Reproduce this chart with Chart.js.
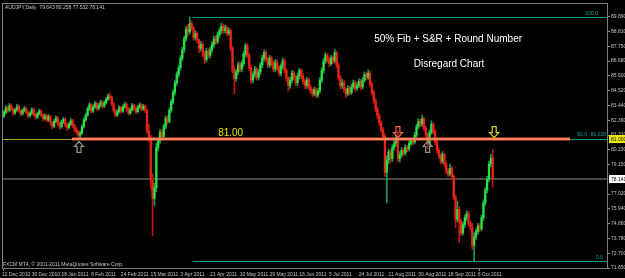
<!DOCTYPE html>
<html><head><meta charset="utf-8">
<script src="https://cdn.jsdelivr.net/npm/chart.js@4.4.1/dist/chart.umd.min.js"></script>
<style>html,body{margin:0;padding:0;background:#000;overflow:hidden}canvas{display:block}</style>
</head><body>
<canvas id="c" width="625" height="278"></canvas>
<script>
const symbol = "AUDJPY";
const period = "Daily";
const opens = [
82.70,82.95,83.30,83.10,83.45,83.20,82.90,83.15,83.40,83.05,
82.85,83.10,83.25,82.95,82.70,82.90,83.15,82.80,82.60,82.85,
83.05,82.75,82.50,82.70,82.40,82.65,82.20,81.95,82.30,82.55,
82.15,81.90,82.25,82.45,82.05,81.85,82.10,82.35,82.00,81.70,
81.55,81.30,81.45,81.90,82.40,82.75,83.20,83.50,83.05,83.35,
83.60,83.25,83.45,83.70,83.40,83.65,83.90,84.15,84.05,83.60,
83.10,82.75,83.00,83.30,83.05,83.35,83.55,83.20,82.90,83.15,
83.45,83.25,83.00,83.30,83.50,83.20,83.40,83.10,81.60,81.10,
78.00,76.70,77.50,80.40,80.90,81.50,81.20,81.90,82.50,82.30,
83.10,83.70,84.40,85.10,85.70,86.20,86.90,87.50,88.30,89.00,
88.80,89.40,89.10,88.40,88.70,88.20,87.60,87.90,87.20,86.80,
87.40,87.10,87.50,87.90,88.30,88.10,88.60,88.90,89.20,88.90,
89.10,88.70,88.90,87.60,86.00,85.40,85.90,86.40,86.10,86.50,
87.20,87.80,87.10,86.20,85.30,85.70,86.10,85.50,85.90,86.40,
86.90,87.30,86.80,86.40,86.90,86.50,86.10,86.60,86.20,85.80,
86.30,86.70,86.00,85.40,84.90,85.30,85.80,85.50,85.10,85.60,
86.00,85.60,85.20,84.90,85.30,84.80,84.50,84.30,84.60,84.20,
84.50,85.30,86.00,86.70,87.10,86.80,86.50,86.90,86.70,87.30,
86.40,85.50,84.90,85.10,84.60,84.30,84.70,84.40,84.80,85.10,
84.70,84.90,85.20,84.80,85.30,85.70,85.50,85.80,85.00,84.40,
83.80,83.20,82.70,82.20,81.70,81.20,78.60,79.50,80.10,79.60,
80.40,80.70,81.10,79.60,79.90,80.20,80.00,80.40,80.30,80.70,
80.90,80.80,81.30,81.90,82.30,82.10,82.50,81.80,81.30,80.70,
81.50,82.10,81.60,80.80,80.20,79.80,79.40,79.90,79.20,78.70,
78.50,78.90,78.30,76.80,75.20,75.90,75.00,74.20,74.80,75.30,
75.60,74.90,74.60,73.30,73.90,74.30,74.70,74.50,75.30,76.40,
77.30,78.10,79.20,79.643];
const highs = [
83.10,83.45,83.40,83.60,83.55,83.30,83.25,83.55,83.50,83.15,
83.20,83.40,83.35,83.05,83.00,83.30,83.25,82.90,82.95,83.20,
83.15,82.85,82.85,82.80,82.80,82.75,82.30,82.45,82.70,82.65,
82.25,82.40,82.60,82.55,82.15,82.25,82.50,82.45,82.10,81.85,
81.65,81.60,82.05,82.55,82.90,83.35,83.65,83.60,83.50,83.75,
83.70,83.60,83.85,83.80,83.80,84.05,84.30,84.35,84.15,83.70,
83.20,83.15,83.45,83.40,83.50,83.70,83.65,83.30,83.30,83.60,
83.55,83.35,83.45,83.65,83.60,83.55,83.50,83.20,82.10,81.30,
78.50,77.80,80.70,81.10,81.70,81.70,82.10,82.70,82.70,83.30,
83.90,84.60,85.30,85.90,86.40,87.10,87.70,88.50,89.20,89.35,
89.89,89.60,89.20,88.90,88.80,88.30,88.10,88.00,87.40,87.60,
87.60,87.70,88.10,88.50,88.50,88.80,89.10,89.45,89.35,89.30,
89.25,89.10,89.00,87.75,86.30,86.10,86.60,86.60,86.70,87.40,
88.00,87.95,87.25,86.35,85.90,86.30,86.25,86.10,86.60,87.10,
87.50,87.45,86.95,87.10,87.05,86.70,86.80,86.75,86.35,86.50,
86.90,86.85,86.15,85.55,85.50,86.00,85.95,85.65,85.80,86.15,
86.10,85.75,85.35,85.50,85.45,84.95,84.65,84.80,84.75,84.70,
85.50,86.20,86.90,87.30,87.25,86.95,87.10,87.05,87.55,87.40,
86.55,85.65,85.35,85.25,84.75,84.90,84.85,85.00,85.30,85.25,
85.10,85.40,85.35,85.50,85.90,85.85,86.05,85.95,85.15,84.55,
83.95,83.35,82.85,82.35,81.85,81.40,79.80,80.30,80.25,80.60,
80.90,81.30,81.60,80.10,80.40,80.35,80.60,80.55,80.90,81.10,
81.05,81.50,82.10,82.50,82.45,82.75,82.60,81.95,81.45,81.70,
82.35,82.20,81.70,80.95,80.35,79.95,80.10,80.00,79.35,78.85,
79.20,79.05,78.45,76.95,76.50,76.10,75.20,75.00,75.50,75.80,
75.75,75.05,74.90,74.20,74.50,74.90,74.85,75.50,76.60,77.50,
78.30,79.40,79.90,80.258];
const lows = [
82.55,82.85,82.95,83.00,83.10,82.75,82.80,83.05,82.95,82.70,
82.75,83.00,82.85,82.55,82.60,82.80,82.70,82.45,82.50,82.75,
82.65,82.35,82.40,82.25,82.30,82.05,81.75,81.85,82.20,82.00,
81.70,81.80,82.15,81.90,81.65,81.75,82.00,81.85,81.55,81.40,
81.15,81.00,81.35,81.80,82.30,82.65,83.10,82.90,82.95,83.25,
83.10,83.15,83.35,83.25,83.30,83.55,83.80,83.90,83.45,82.95,
82.60,82.65,82.90,82.90,82.95,83.25,83.05,82.75,82.80,83.05,
83.10,82.85,82.90,83.20,83.05,83.10,82.95,81.40,80.80,77.40,
74.00,76.20,77.20,80.20,80.70,80.95,81.00,81.75,82.10,82.20,
82.95,83.55,84.20,84.90,85.50,86.00,86.70,87.30,88.10,88.50,
88.65,88.90,88.20,88.20,88.00,87.30,87.40,87.00,86.50,86.60,
86.90,86.90,87.30,87.70,87.90,87.95,88.40,88.70,88.70,88.70,
88.50,88.55,87.40,85.80,84.30,85.20,85.70,85.90,85.90,86.30,
87.00,86.90,86.00,85.05,85.10,85.50,85.30,85.30,85.70,86.20,
86.70,86.60,86.20,86.20,86.30,85.90,85.90,86.00,85.60,85.60,
86.10,85.80,85.20,84.50,84.70,85.10,85.30,84.90,84.90,85.40,
85.40,85.00,84.70,84.70,84.60,84.30,84.10,84.15,84.05,84.05,
84.35,85.10,85.80,86.50,86.60,86.30,86.35,86.50,86.55,86.20,
85.30,84.70,84.70,84.40,84.05,84.15,84.20,84.25,84.65,84.50,
84.55,84.75,84.60,84.65,85.15,85.30,85.35,84.80,84.20,83.60,
83.00,82.50,82.00,81.50,81.00,78.30,76.40,79.20,79.30,79.40,
80.20,80.50,79.40,79.35,79.70,79.80,79.85,80.10,80.15,80.55,
80.60,80.65,81.15,81.75,81.90,81.95,81.60,81.10,80.30,80.55,
81.35,81.40,80.60,80.00,79.60,79.20,79.25,79.00,78.50,78.30,
78.35,78.10,76.60,74.60,75.00,73.50,74.00,74.05,74.60,75.10,
74.70,74.40,73.00,72.17,73.70,74.10,74.30,74.35,75.10,76.20,
77.10,77.90,79.00,77.532];
const closes = [
82.95,83.30,83.10,83.45,83.20,82.90,83.15,83.40,83.05,82.85,
83.10,83.25,82.95,82.70,82.90,83.15,82.80,82.60,82.85,83.05,
82.75,82.50,82.70,82.40,82.65,82.20,81.95,82.30,82.55,82.15,
81.90,82.25,82.45,82.05,81.85,82.10,82.35,82.00,81.70,81.55,
81.30,81.45,81.90,82.40,82.75,83.20,83.50,83.05,83.35,83.60,
83.25,83.45,83.70,83.40,83.65,83.90,84.15,84.05,83.60,83.10,
82.75,83.00,83.30,83.05,83.35,83.55,83.20,82.90,83.15,83.45,
83.25,83.00,83.30,83.50,83.20,83.40,83.10,81.60,81.10,78.00,
76.70,77.50,80.40,80.90,81.50,81.20,81.90,82.50,82.30,83.10,
83.70,84.40,85.10,85.70,86.20,86.90,87.50,88.30,89.00,88.80,
89.40,89.10,88.40,88.70,88.20,87.60,87.90,87.20,86.80,87.40,
87.10,87.50,87.90,88.30,88.10,88.60,88.90,89.20,88.90,89.10,
88.70,88.90,87.60,86.00,85.40,85.90,86.40,86.10,86.50,87.20,
87.80,87.10,86.20,85.30,85.70,86.10,85.50,85.90,86.40,86.90,
87.30,86.80,86.40,86.90,86.50,86.10,86.60,86.20,85.80,86.30,
86.70,86.00,85.40,84.90,85.30,85.80,85.50,85.10,85.60,86.00,
85.60,85.20,84.90,85.30,84.80,84.50,84.30,84.60,84.20,84.50,
85.30,86.00,86.70,87.10,86.80,86.50,86.90,86.70,87.30,86.40,
85.50,84.90,85.10,84.60,84.30,84.70,84.40,84.80,85.10,84.70,
84.90,85.20,84.80,85.30,85.70,85.50,85.80,85.00,84.40,83.80,
83.20,82.70,82.20,81.70,81.20,78.60,79.50,80.10,79.60,80.40,
80.70,81.10,79.60,79.90,80.20,80.00,80.40,80.30,80.70,80.90,
80.80,81.30,81.90,82.30,82.10,82.50,81.80,81.30,80.70,81.50,
82.10,81.60,80.80,80.20,79.80,79.40,79.90,79.20,78.70,78.50,
78.90,78.30,76.80,75.20,75.90,75.00,74.20,74.80,75.30,75.60,
74.90,74.60,73.30,73.90,74.30,74.70,74.50,75.30,76.40,77.30,
78.10,79.20,79.64,78.141];

const xTickLabels = ["12 Dec 2010","30 Dec 2010","18 Jan 2011","6 Feb 2011","24 Feb 2011","15 Mar 2011","3 Apr 2011","21 Apr 2011","10 May 2011","29 May 2011","16 Jun 2011","5 Jul 2011","24 Jul 2011","11 Aug 2011","30 Aug 2011","18 Sep 2011","6 Oct 2011"];
const barsPerTick = 16;
const totalSlots = 325;
const yTickValues = [89.89,88.81,87.75,86.68,85.60,84.52,83.44,82.39,81.31,80.23,79.15,77.02,75.94,74.86,73.78,72.70,71.65];
const yMin = 71.65, yMax = 90.827;

const srLevel = 81.00, srStartBar = 36.6, srEndBar = 304.6, srLabel = "81.00";
const fibHigh = 89.89, fibLow = 72.166, fibStartBar = 101.5;
const fibLevels = [100, 50, 0];
const bidPrice = 78.141;
const upArrowBars = [40.4, 228];
const upArrowPrice = 80.85;
const upArrowColors = ["#8c9a84", "#8a9a8e"];
const downArrowBars = [212, 263.8];
const downArrowPrice = 81.12;
const downArrowColors = ["#f26a4c", "#d8d41e"];
const noteLines = ["50% Fib + S&R + Round Number", "Disregard Chart"];
const noteBars = [239, 239.5];
const notePrices = [88.30, 86.43];
const srLabelBar = 122, srLabelPrice = 81.46;
const footerText = "FXCM MT4, \u00A9 2001-2011 MetaQuotes Software Corp.";

const N = closes.length;
const labels = Array.from({length: totalSlots}, (_, i) => String(i));
const isUp = i => closes[i] >= opens[i];
const wickData = labels.map((_, i) => i < N ? [lows[i], highs[i]] : null);
const bodyData = labels.map((_, i) => i < N ? [Math.min(opens[i], closes[i]), Math.max(opens[i], closes[i])] : null);
const wickColors = labels.map((_, i) => i < N ? (isUp(i) ? '#179a5e' : '#c2160f') : 'rgba(0,0,0,0)');
const bodyColors = labels.map((_, i) => i < N ? (isUp(i) ? '#2ae23c' : '#ea2419') : 'rgba(0,0,0,0)');

const FONT = "'Liberation Sans', Arial, sans-serif";

function drawArrow(ctx, x, yTip, dir, color) {
  const s = dir; // 1 = up (tip on top), -1 = down
  ctx.beginPath();
  ctx.moveTo(x, yTip);
  ctx.lineTo(x + 4.5, yTip + s * 5);
  ctx.lineTo(x + 2, yTip + s * 5);
  ctx.lineTo(x + 2, yTip + s * 11);
  ctx.lineTo(x - 2, yTip + s * 11);
  ctx.lineTo(x - 2, yTip + s * 5);
  ctx.lineTo(x - 4.5, yTip + s * 5);
  ctx.closePath();
  ctx.strokeStyle = color;
  ctx.lineWidth = 1.2;
  ctx.stroke();
}

const overlay = {
  id: 'overlay',
  beforeDraw(chart) {
    const c = chart.ctx;
    c.save(); c.fillStyle = '#000'; c.fillRect(0, 0, chart.width, chart.height); c.restore();
  },
  beforeDatasetsDraw(chart) {
    const {ctx, chartArea: a, scales: {y}} = chart;
    ctx.save();
    const yb = Math.round(y.getPixelForValue(bidPrice));
    ctx.fillStyle = '#474747';
    ctx.fillRect(a.left, yb - 1, a.right - a.left, 2);
    ctx.restore();
  },
  afterDatasetsDraw(chart) {
    const {ctx, chartArea: a, scales: {x, y}} = chart;
    ctx.save();
    // yellow horizontal line
    const ys = Math.round(y.getPixelForValue(srLevel)) + 0.5;
    ctx.strokeStyle = '#a8a61e'; ctx.lineWidth = 1;
    ctx.beginPath(); ctx.moveTo(a.left, ys); ctx.lineTo(a.right, ys); ctx.stroke();
    // fibonacci lines
    const fx0 = x.getPixelForValue(fibStartBar);
    ctx.strokeStyle = '#16968a';
    fibLevels.forEach(l => {
      const p = fibLow + (fibHigh - fibLow) * l / 100;
      const yy = Math.round(y.getPixelForValue(p)) + 0.5;
      ctx.beginPath(); ctx.moveTo(fx0, yy); ctx.lineTo(a.right, yy); ctx.stroke();
    });
    // orange S&R line
    const ox0 = x.getPixelForValue(srStartBar), ox1 = x.getPixelForValue(srEndBar);
    ctx.fillStyle = '#ff5a34';
    ctx.fillRect(ox0, ys - 2, ox1 - ox0, 3);
    ctx.fillStyle = '#ffab8c';
    ctx.fillRect(ox0, ys - 1, ox1 - ox0, 1);
    // fib labels
    ctx.font = `5px ${FONT}`;
    ctx.fillStyle = '#1fa89a';
    ctx.textBaseline = 'alphabetic';
    ctx.textAlign = 'right';
    fibLevels.forEach(l => {
      const p = fibLow + (fibHigh - fibLow) * l / 100;
      const yy = y.getPixelForValue(p) - 1.5;
      if (l === 50) {
        ctx.fillText(l.toFixed(1), a.right - 20, yy - 1);
        ctx.fillText(p.toFixed(3), a.right - 1, yy - 1);
      } else {
        ctx.fillText(l.toFixed(1), a.right - (l === 100 ? 9 : 4), yy);
      }
    });
    // arrows
    upArrowBars.forEach((b, i) => drawArrow(ctx, x.getPixelForValue(b), y.getPixelForValue(upArrowPrice), 1, upArrowColors[i]));
    downArrowBars.forEach((b, i) => drawArrow(ctx, x.getPixelForValue(b), y.getPixelForValue(downArrowPrice), -1, downArrowColors[i]));
    // notes
    ctx.textAlign = 'center'; ctx.textBaseline = 'middle';
    ctx.font = `10px ${FONT}`;
    ctx.fillStyle = '#ffffff';
    noteLines.forEach((t, i) => ctx.fillText(t, x.getPixelForValue(noteBars[i]), y.getPixelForValue(notePrices[i])));
    ctx.fillStyle = '#e6e40a';
    ctx.fillText(srLabel, x.getPixelForValue(srLabelBar), y.getPixelForValue(srLabelPrice));
    ctx.restore();
  },
  afterDraw(chart) {
    const {ctx, chartArea: a, scales: {y}} = chart;
    ctx.save();
    // frame
    ctx.strokeStyle = '#7c7c7c'; ctx.lineWidth = 1;
    ctx.strokeRect(a.left - 0.5, a.top - 0.5, a.right - a.left + 1, a.bottom - a.top + 1);
    // header & footer
    ctx.font = `5px ${FONT}`;
    ctx.fillStyle = '#c4c4c4';
    ctx.textAlign = 'left'; ctx.textBaseline = 'middle';
    const hdr = `${symbol},${period}  ${opens[N-1].toFixed(3)} ${highs[N-1].toFixed(3)} ${lows[N-1].toFixed(3)} ${closes[N-1].toFixed(3)}`;
    ctx.fillText(hdr, a.left + 2, a.top + 3.5);
    ctx.fillText(footerText, a.left, a.bottom - 3);
    // axis highlight boxes
    const boxes = [[srLevel, '#ecea0c', srLevel.toFixed(3)], [bidPrice, '#ffffff', bidPrice.toFixed(3)]];
    boxes.forEach(([v, bg, txt]) => {
      const yy = Math.round(y.getPixelForValue(v));
      ctx.fillStyle = bg;
      ctx.fillRect(a.right + 2, yy - 4, chart.width - a.right - 2, 8);
      ctx.fillStyle = '#000';
      ctx.fillText(txt, a.right + 4, yy + 0.5);
    });
    ctx.restore();
  }
};

new Chart(document.getElementById('c'), {
  type: 'bar',
  data: {
    labels,
    datasets: [
      { data: wickData, backgroundColor: wickColors, barThickness: 1, grouped: false, order: 2, borderWidth: 0 },
      { data: bodyData, backgroundColor: bodyColors, barThickness: 1.6, minBarLength: 1, grouped: false, order: 1, borderWidth: 0 }
    ]
  },
  options: {
    responsive: false,
    animation: false,
    devicePixelRatio: 1,
    layout: { padding: { left: 3, top: 2, right: 0, bottom: 0 } },
    plugins: { legend: { display: false }, tooltip: { enabled: false } },
    scales: {
      x: {
        type: 'category',
        offset: true,
        grid: { drawOnChartArea: false, tickLength: 3, offset: false,
                color: c => (c.index % barsPerTick === 0 && c.index / barsPerTick < xTickLabels.length) ? '#8a8a8a' : 'rgba(0,0,0,0)' },
        border: { display: true, color: '#7c7c7c' },
        ticks: {
          autoSkip: false, maxRotation: 0, minRotation: 0, align: 'start', labelOffset: -2,
          color: '#c4c4c4', font: { size: 5, family: FONT }, padding: 1,
          callback: (v, idx) => (idx % barsPerTick === 0 && idx / barsPerTick < xTickLabels.length) ? xTickLabels[idx / barsPerTick] : null
        },
        afterFit: s => { s.height = 10; }
      },
      y: {
        type: 'linear', position: 'right', min: yMin, max: yMax,
        afterBuildTicks: axis => { axis.ticks = yTickValues.map(v => ({ value: v })); },
        grid: { drawOnChartArea: false, tickLength: 3, color: '#8a8a8a' },
        border: { display: true, color: '#7c7c7c' },
        ticks: { color: '#c4c4c4', font: { size: 5, family: FONT }, padding: 1, callback: v => Number(v).toFixed(3) },
        afterFit: s => { s.width = 18; }
      }
    }
  },
  plugins: [overlay]
});
</script>
</body></html>
